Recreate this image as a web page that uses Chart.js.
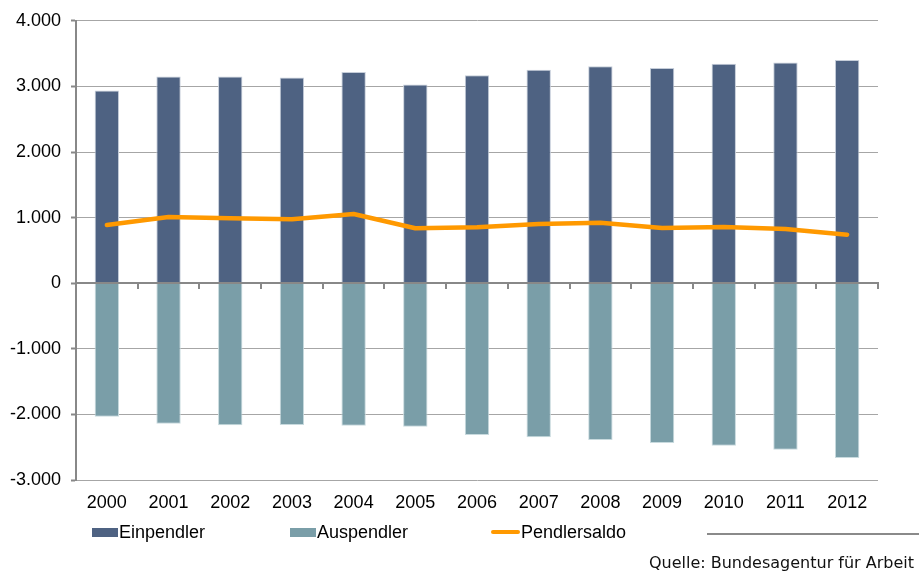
<!DOCTYPE html>
<html>
<head>
<meta charset="utf-8">
<script src="https://cdn.jsdelivr.net/npm/chart.js@4/dist/chart.umd.min.js"></script>
<style>
  html, body { margin: 0; padding: 0; background: #fff; }
  #wrap { position: relative; width: 919px; height: 574px; overflow: hidden; }
  #c { position: absolute; left: 0; top: 0; }
  .leg { position: absolute; top: 520px; height: 24px; display: flex; align-items: center;
         font-family: "Liberation Sans", Arial, sans-serif; font-size: 18px; color: #000; white-space: nowrap; }
  .box { width: 26px; height: 9px; margin-right: 1px; }
  .ln { width: 29px; height: 4px; border-radius: 2px; background: #FF9900; margin-right: 1px; }
  #rule { position: absolute; left: 707px; top: 533px; width: 212px; height: 2px; background: #8a8a8a; }
  #src { position: absolute; right: 5px; top: 554px; font-family: "DejaVu Sans", Verdana, sans-serif;
         font-size: 16px; line-height: 18px; color: #111; white-space: nowrap; }
</style>
</head>
<body>
<div id="wrap">
  <canvas id="c" width="919" height="574"></canvas>
  <div class="leg" style="left:92px"><div class="box" style="background:#4E6282"></div>Einpendler</div>
  <div class="leg" style="left:290px"><div class="box" style="background:#7A9EA8"></div>Auspendler</div>
  <div class="leg" style="left:491px"><div class="ln"></div>Pendlersaldo</div>
  <div id="rule"></div>
  <div id="src">Quelle: Bundesagentur für Arbeit</div>
</div>
<script>
const years = ['2000','2001','2002','2003','2004','2005','2006','2007','2008','2009','2010','2011','2012'];
const einpendler = [2937, 3151, 3151, 3135, 3221, 3029, 3170, 3252, 3307, 3282, 3344, 3364, 3404];
const auspendler = [-2035, -2141, -2167, -2162, -2172, -2187, -2314, -2350, -2390, -2435, -2476, -2537, -2664];
const pendlersaldo = [887, 1009, 989, 974, 1055, 837, 852, 903, 922, 842, 857, 826, 740];
const yMin = -3000, yMax = 4000, yStep = 1000;

function fmt(v) {
  const s = Math.abs(v).toString().replace(/\B(?=(\d{3})+(?!\d))/g, '.');
  return (v < 0 ? '-' : '') + s;
}

const font = { family: '"Liberation Sans", Arial, sans-serif', size: 18 };

new Chart(document.getElementById('c'), {
  data: {
    labels: years,
    datasets: [
      { type: 'line', label: 'Pendlersaldo', data: pendlersaldo, borderColor: '#FF9900',
        borderWidth: 4.5, pointRadius: 0, tension: 0, borderCapStyle: 'round', borderJoinStyle: 'round', order: 0 },
      { type: 'bar', label: 'Einpendler', data: einpendler, backgroundColor: '#4E6282',
        borderColor: '#c5cdd9', borderWidth: 1, grouped: false, barPercentage: 0.395, categoryPercentage: 1, order: 1 },
      { type: 'bar', label: 'Auspendler', data: auspendler, backgroundColor: '#7A9EA8',
        borderColor: '#c8dade', borderWidth: 1, grouped: false, barPercentage: 0.395, categoryPercentage: 1, order: 2 }
    ]
  },
  options: {
    responsive: false,
    animation: false,
    layout: { padding: { left: 0, right: 41, top: 20, bottom: 50 } },
    plugins: { legend: { display: false }, tooltip: { enabled: false } },
    scales: {
      x: {
        type: 'category',
        position: 'bottom',
        offset: true,
        grid: { display: false, drawTicks: false },
        border: { display: false },
        ticks: { color: '#000', font: font, padding: 12, maxRotation: 0 },
        afterFit: (s) => { s.height = 44; }
      },
      x2: {
        type: 'category',
        labels: years,
        position: { y: 0 },
        offset: true,
        grid: { drawOnChartArea: false, drawTicks: true, tickLength: 5, color: '#888', lineWidth: 2, offset: true },
        border: { display: true, color: '#888', width: 2, z: 1 },
        ticks: { display: false }
      },
      y: {
        min: yMin, max: yMax,
        ticks: { stepSize: yStep, color: '#000', font: font, padding: 10, callback: (v) => fmt(v) },
        grid: { color: '#a6a6a6', lineWidth: 1, tickLength: 5, tickColor: '#888', tickWidth: 2 },
        border: { display: true, color: '#888', width: 2 },
        afterFit: (s) => { s.width = 76; }
      }
    }
  }
});
</script>
</body>
</html>
